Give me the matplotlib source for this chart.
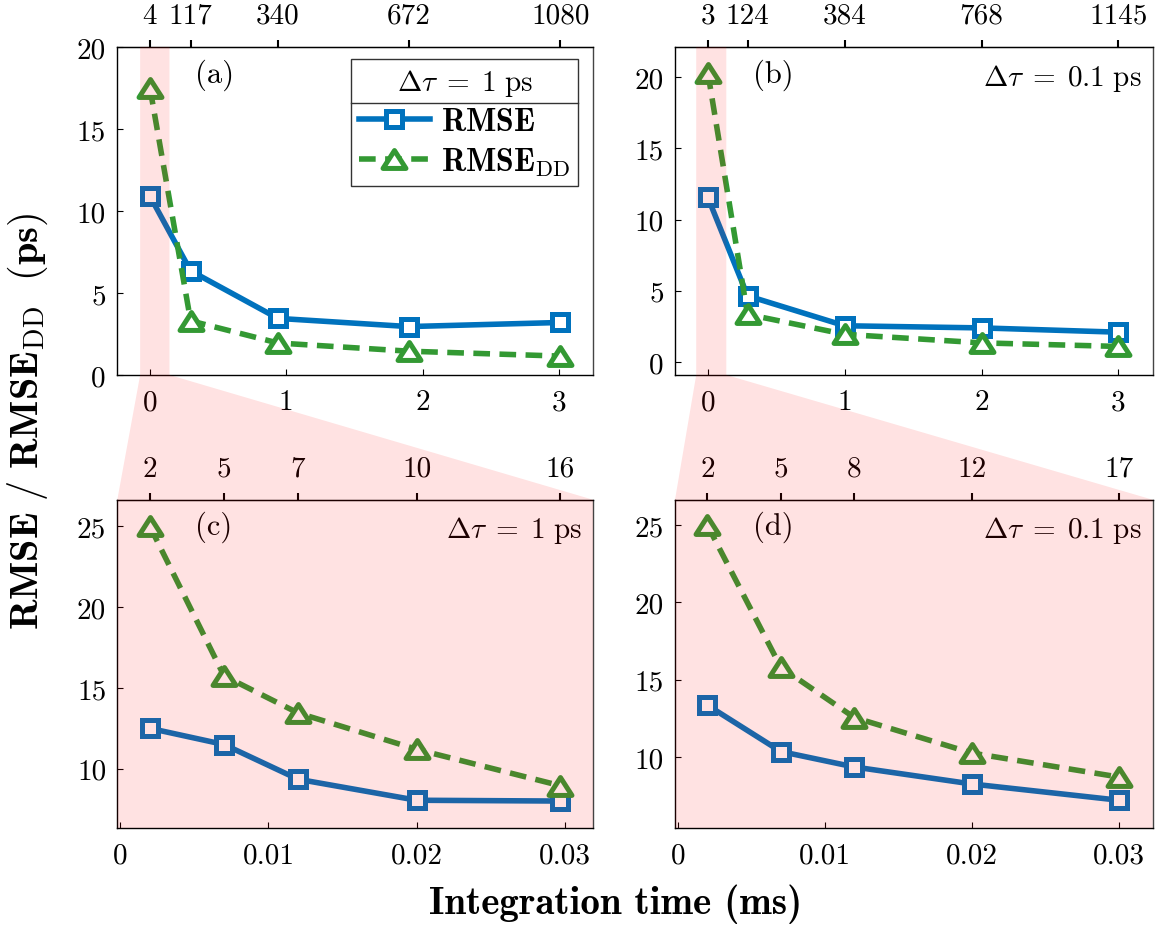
import numpy as np
import matplotlib.pyplot as plt
from matplotlib.path import Path
from matplotlib.patches import Polygon
from matplotlib.lines import Line2D

plt.rcParams['font.family'] = 'serif'
plt.rcParams['font.serif'] = ['cmr10']
plt.rcParams['mathtext.fontset'] = 'cm'
plt.rcParams['axes.unicode_minus'] = False

# (a) dtau = 1 ps, full range
x_a = [0.002, 0.30, 0.94, 1.90, 3.01]
top_a = ['4', '117', '340', '672', '1080']
rmse_a = [10.9, 6.35, 3.45, 2.95, 3.2]
dd_a = [17.5, 3.3, 1.95, 1.45, 1.15]

# (b) dtau = 0.1 ps, full range
x_b = [0.0, 0.29, 1.0, 2.0, 3.0]
top_b = ['3', '124', '384', '768', '1145']
rmse_b = [11.55, 4.65, 2.55, 2.4, 2.1]
dd_b = [20.3, 3.35, 1.95, 1.35, 1.1]

# (c) dtau = 1 ps, zoom
x_c = [0.002, 0.007, 0.012, 0.020, 0.0297]
top_c = ['2', '5', '7', '10', '16']
rmse_c = [12.5, 11.5, 9.35, 8.05, 8.0]
dd_c = [25.0, 15.75, 13.45, 11.2, 8.95]

# (d) dtau = 0.1 ps, zoom
x_d = [0.002, 0.007, 0.012, 0.020, 0.030]
top_d = ['2', '5', '8', '12', '17']
rmse_d = [13.35, 10.35, 9.35, 8.25, 7.2]
dd_d = [25.0, 15.8, 12.55, 10.25, 8.7]

blue = '#0072BD'
green = '#339933'
tri = Path([(-1, -0.78), (1, -0.78), (0, 0.78), (-1, -0.78)],
           [Path.MOVETO, Path.LINETO, Path.LINETO, Path.CLOSEPOLY])

fig = plt.figure(figsize=(11.58, 9.29), dpi=100)
ax_a = fig.add_axes([0.1010, 0.5953, 0.4111, 0.3531])
ax_b = fig.add_axes([0.5829, 0.5953, 0.4125, 0.3531])
ax_c = fig.add_axes([0.1013, 0.1076, 0.4108, 0.3534])
ax_d = fig.add_axes([0.5829, 0.1076, 0.4125, 0.3534])

TS = 21  # tick label size


def panel(ax, x, r, d, top, xlim, ylim, xt, xtl, yt, tag, note):
    l1, = ax.plot(x, r, '-', color=blue, lw=4, marker='s', ms=12, mew=3.6,
                  mfc='white', label=r'$\mathbf{RMSE}$')
    l2, = ax.plot(x, d, '--', color=green, lw=4, dashes=(3.0, 1.7), marker=tri,
                  ms=16.5, mew=3.6, mfc='white',
                  label=r'$\mathbf{RMSE}_{\mathrm{DD}}$')
    ax.set_xlim(xlim)
    ax.set_ylim(ylim)
    ax.set_xticks(xt, xtl)
    ax.set_yticks(yt, [str(v) for v in yt])
    ax.tick_params(direction='in', length=4, width=0.8, labelsize=TS)
    ax.tick_params(axis='x', pad=10)
    ax.tick_params(axis='y', pad=8)
    for s in ax.spines.values():
        s.set_linewidth(1.0)
    ax.spines['right'].set_color('#444444')
    sec = ax.secondary_xaxis('top')
    sec.set_xticks(x, top)
    sec.tick_params(direction='out', length=5, width=1.5, labelsize=TS, pad=8)
    ax.text(0.163, 0.918, tag, transform=ax.transAxes, ha='left', va='center',
            fontsize=22)
    if note:
        ax.text(0.977, 0.908, note, transform=ax.transAxes, ha='right',
                va='center', fontsize=21)
    return l1, l2


h1, h2 = panel(ax_a, x_a, rmse_a, dd_a, top_a, (-0.24, 3.25), (0, 20),
               [0, 1, 2, 3], ['0', '1', '2', '3'], [0, 5, 10, 15, 20], '(a)', None)
panel(ax_b, x_b, rmse_b, dd_b, top_b, (-0.24, 3.25), (-0.9, 22.1),
      [0, 1, 2, 3], ['0', '1', '2', '3'], [0, 5, 10, 15, 20], '(b)',
      r'$\Delta\tau\;=\;0.1\ \mathrm{ps}$')
panel(ax_c, x_c, rmse_c, dd_c, top_c, (-0.0002, 0.0319), (6.33, 26.65),
      [0, 0.01, 0.02, 0.03], ['0', '0.01', '0.02', '0.03'], [10, 15, 20, 25],
      '(c)', r'$\Delta\tau\;=\;1\ \mathrm{ps}$')
panel(ax_d, x_d, rmse_d, dd_d, top_d, (-0.0002, 0.0323), (5.4, 26.64),
      [0, 0.01, 0.02, 0.03], ['0', '0.01', '0.02', '0.03'], [10, 15, 20, 25],
      '(d)', r'$\Delta\tau\;=\;0.1\ \mathrm{ps}$')

leg = ax_a.legend(handles=[h1, h2], title=r'$\Delta\tau\;=\;1\ \mathrm{ps}$',
                  loc='upper right', bbox_to_anchor=(0.969, 0.963),
                  fontsize=23, title_fontsize=21, fancybox=False, framealpha=1,
                  edgecolor='#333333', handlelength=2.2, handletextpad=0.35,
                  labelspacing=0.3, borderpad=0.25, borderaxespad=0)
leg.get_frame().set_linewidth(1.0)

# pink zoom-in overlay (band on top panels -> bottom panels)
inv = fig.transFigure.inverted()
for top_ax, bot_ax, band in [(ax_a, ax_c, (-0.07, 0.145)),
                             (ax_b, ax_d, (-0.085, 0.135))]:
    bt = top_ax.get_xaxis_transform()
    pts = [bt.transform((band[0], 1)), bt.transform((band[1], 1)),
           bt.transform((band[1], 0)),
           bot_ax.transAxes.transform((1, 1)), bot_ax.transAxes.transform((1, 0)),
           bot_ax.transAxes.transform((0, 0)), bot_ax.transAxes.transform((0, 1)),
           bt.transform((band[0], 0))]
    pts = inv.transform(np.array(pts))
    fig.add_artist(Polygon(pts, closed=True, facecolor='red', alpha=0.115,
                           edgecolor='none', transform=fig.transFigure, zorder=10))

fig.text(0.024, 0.546,
         r'$\mathbf{RMSE\ /\ RMSE}_{\mathrm{DD}}\ \ \mathbf{(ps)}$',
         rotation=90, ha='center', va='center', fontsize=29)
fig.text(0.532, 0.027, 'Integration time (ms)', fontfamily='cmb10', fontsize=28,
         ha='center', va='center')

# separator line under the legend title
fig.canvas.draw()
rend = fig.canvas.get_renderer()
tb = leg.get_title().get_window_extent(rend)
fb = leg.get_frame().get_window_extent(rend)
tx = leg.get_texts()[0].get_window_extent(rend)
ysep = 0.5 * (tb.y0 + tx.y1)
p0 = inv.transform((fb.x0, ysep))
p1 = inv.transform((fb.x1, ysep))
fig.add_artist(Line2D([p0[0], p1[0]], [p0[1], p1[1]], color='#333333', lw=1.0,
                      transform=fig.transFigure, zorder=6))

fig.savefig('out.png', dpi=100)
